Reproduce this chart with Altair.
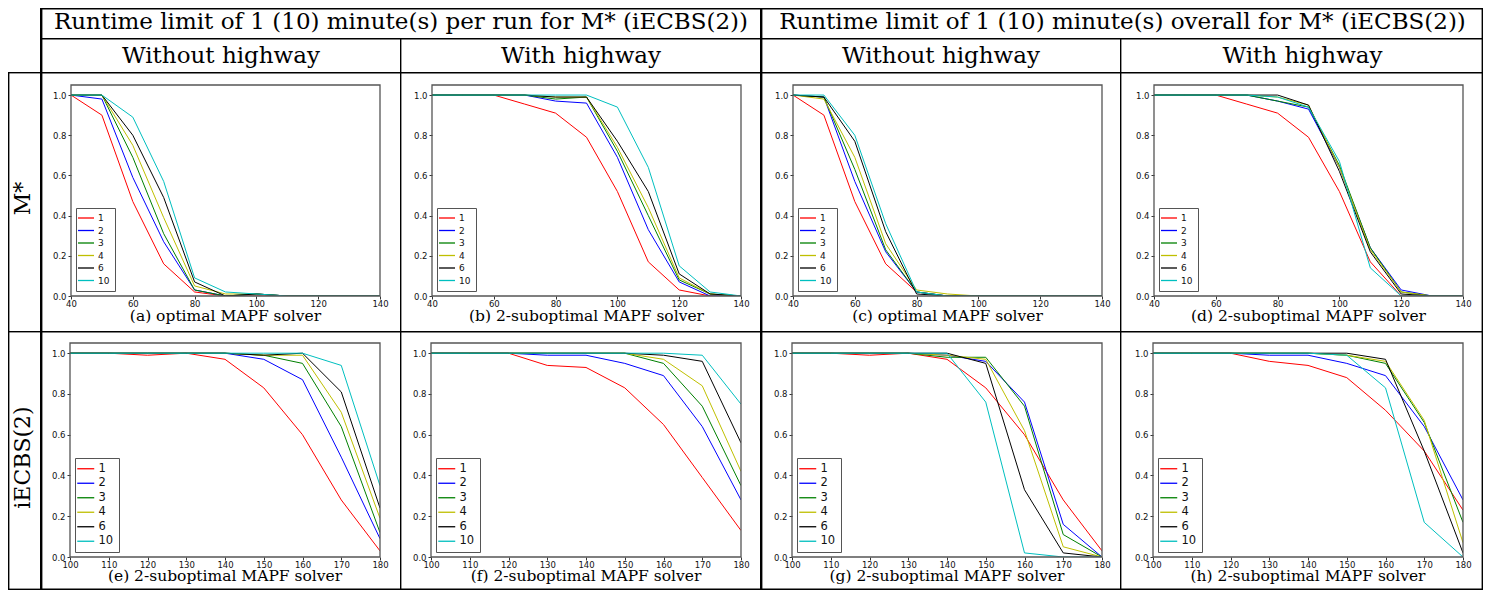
import altair as alt
import pandas as pd

SERIES = ["1", "2", "3", "4", "6", "10"]
COLORS = ["#ff0000", "#0000ff", "#008000", "#bfbf00", "#000000", "#00bfbf"]
X_TOP = [40, 50, 60, 70, 80, 90, 100, 110, 120, 130, 140]
X_BOTTOM = [100, 110, 120, 130, 140, 150, 160, 170, 180]
X_TOP_TICKS = [40, 60, 80, 100, 120, 140]
X_BOTTOM_TICKS = [100, 110, 120, 130, 140, 150, 160, 170, 180]
Y_TICKS = [0.0, 0.2, 0.4, 0.6, 0.8, 1.0]

HEADER_TOP = ["Runtime limit of 1 (10) minute(s) per run for M* (iECBS(2))",
              "Runtime limit of 1 (10) minute(s) overall for M* (iECBS(2))"]
HEADER_SUB = ["Without highway", "With highway", "Without highway", "With highway"]
ROW_LABELS = ["M*", "iECBS(2)"]
CAPTIONS = ["(a) optimal MAPF solver", "(b) 2-suboptimal MAPF solver",
            "(c) optimal MAPF solver", "(d) 2-suboptimal MAPF solver",
            "(e) 2-suboptimal MAPF solver", "(f) 2-suboptimal MAPF solver",
            "(g) 2-suboptimal MAPF solver", "(h) 2-suboptimal MAPF solver"]

A_VALUES = [
    [1.0, 0.90, 0.47, 0.16, 0.02, 0.0, 0.0, 0.0, 0.0, 0.0, 0.0],
    [1.0, 0.98, 0.59, 0.27, 0.03, 0.0, 0.01, 0.0, 0.0, 0.0, 0.0],
    [1.0, 1.0, 0.69, 0.31, 0.03, 0.0, 0.01, 0.0, 0.0, 0.0, 0.0],
    [1.0, 1.0, 0.75, 0.39, 0.05, 0.01, 0.01, 0.0, 0.0, 0.0, 0.0],
    [1.0, 1.0, 0.80, 0.49, 0.07, 0.0, 0.01, 0.0, 0.0, 0.0, 0.0],
    [1.0, 1.0, 0.89, 0.57, 0.09, 0.02, 0.01, 0.0, 0.0, 0.0, 0.0],
]
B_VALUES = [
    [1.0, 1.0, 1.0, 0.955, 0.91, 0.79, 0.52, 0.17, 0.03, 0.0, 0.0],
    [1.0, 1.0, 1.0, 1.0, 0.97, 0.96, 0.69, 0.33, 0.07, 0.0, 0.0],
    [1.0, 1.0, 1.0, 1.0, 0.98, 0.99, 0.72, 0.40, 0.08, 0.01, 0.0],
    [1.0, 1.0, 1.0, 1.0, 0.99, 0.99, 0.74, 0.44, 0.09, 0.01, 0.0],
    [1.0, 1.0, 1.0, 1.0, 0.99, 0.99, 0.77, 0.52, 0.11, 0.01, 0.0],
    [1.0, 1.0, 1.0, 1.0, 1.0, 1.0, 0.94, 0.64, 0.15, 0.02, 0.0],
]
C_VALUES = [
    [1.0, 0.90, 0.47, 0.16, 0.02, 0.0, 0.0, 0.0, 0.0, 0.0, 0.0],
    [1.0, 0.99, 0.57, 0.22, 0.02, 0.0, 0.0, 0.0, 0.0, 0.0, 0.0],
    [1.0, 0.99, 0.63, 0.23, 0.02, 0.0, 0.0, 0.0, 0.0, 0.0, 0.0],
    [1.0, 0.98, 0.69, 0.26, 0.03, 0.01, 0.0, 0.0, 0.0, 0.0, 0.0],
    [1.0, 0.99, 0.77, 0.32, 0.01, 0.0, 0.0, 0.0, 0.0, 0.0, 0.0],
    [1.0, 1.0, 0.80, 0.36, 0.02, 0.0, 0.0, 0.0, 0.0, 0.0, 0.0],
]
D_VALUES = [
    [1.0, 1.0, 1.0, 0.955, 0.91, 0.79, 0.52, 0.17, 0.0, 0.0, 0.0],
    [1.0, 1.0, 1.0, 1.0, 0.97, 0.93, 0.64, 0.24, 0.03, 0.0, 0.0],
    [1.0, 1.0, 1.0, 1.0, 0.97, 0.94, 0.65, 0.24, 0.02, 0.0, 0.0],
    [1.0, 1.0, 1.0, 1.0, 0.99, 0.95, 0.64, 0.23, 0.02, 0.0, 0.0],
    [1.0, 1.0, 1.0, 1.0, 1.0, 0.95, 0.62, 0.22, 0.01, 0.0, 0.0],
    [1.0, 1.0, 1.0, 1.0, 0.99, 0.94, 0.67, 0.14, 0.0, 0.0, 0.0],
]
E_VALUES = [
    [1.0, 1.0, 0.99, 1.0, 0.97, 0.83, 0.60, 0.28, 0.03],
    [1.0, 1.0, 1.0, 1.0, 1.0, 0.97, 0.87, 0.49, 0.09],
    [1.0, 1.0, 1.0, 1.0, 1.0, 0.99, 0.95, 0.64, 0.12],
    [1.0, 1.0, 1.0, 1.0, 1.0, 0.99, 0.99, 0.71, 0.19],
    [1.0, 1.0, 1.0, 1.0, 1.0, 0.99, 1.0, 0.81, 0.24],
    [1.0, 1.0, 1.0, 1.0, 1.0, 1.0, 1.0, 0.94, 0.35],
]
F_VALUES = [
    [1.0, 1.0, 1.0, 0.94, 0.93, 0.83, 0.65, 0.39, 0.13],
    [1.0, 1.0, 1.0, 0.99, 0.99, 0.95, 0.89, 0.64, 0.28],
    [1.0, 1.0, 1.0, 1.0, 1.0, 1.0, 0.95, 0.74, 0.35],
    [1.0, 1.0, 1.0, 1.0, 1.0, 1.0, 0.97, 0.84, 0.42],
    [1.0, 1.0, 1.0, 1.0, 1.0, 1.0, 0.99, 0.96, 0.56],
    [1.0, 1.0, 1.0, 1.0, 1.0, 1.0, 1.0, 0.99, 0.75],
]
G_VALUES = [
    [1.0, 1.0, 0.99, 1.0, 0.97, 0.83, 0.60, 0.28, 0.03],
    [1.0, 1.0, 1.0, 1.0, 0.99, 0.96, 0.76, 0.16, 0.0],
    [1.0, 1.0, 1.0, 1.0, 0.98, 0.98, 0.74, 0.11, 0.0],
    [1.0, 1.0, 1.0, 1.0, 0.99, 0.97, 0.62, 0.05, 0.0],
    [1.0, 1.0, 1.0, 1.0, 1.0, 0.95, 0.33, 0.02, 0.0],
    [1.0, 1.0, 1.0, 1.0, 1.0, 0.76, 0.02, 0.0, 0.0],
]
H_VALUES = [
    [1.0, 1.0, 1.0, 0.96, 0.94, 0.88, 0.72, 0.52, 0.23],
    [1.0, 1.0, 1.0, 0.99, 0.99, 0.95, 0.89, 0.64, 0.28],
    [1.0, 1.0, 1.0, 1.0, 1.0, 0.99, 0.95, 0.66, 0.17],
    [1.0, 1.0, 1.0, 1.0, 1.0, 0.99, 0.96, 0.67, 0.07],
    [1.0, 1.0, 1.0, 1.0, 1.0, 1.0, 0.97, 0.52, 0.02],
    [1.0, 1.0, 1.0, 1.0, 1.0, 0.99, 0.83, 0.17, 0.0],
]

SERIF = "DejaVu Serif"
SANS = "DejaVu Sans"
LABEL_W = 32
CELL_WS = [360, 360, 360, 363]
ROW_HS = [259, 259]
ROW_T = [13, 12]
ROW_PH = [211, 214]
HEAD1 = 30
HEAD2 = 34
THIN = 1.4
THICK = 2.4
DUMMY = pd.DataFrame({"k": [0]})
NO_FRAME = alt.ViewBackground(strokeWidth=0, strokeOpacity=0)


def band(x1, x2, y1, y2, opacity=1.0):
    # a filled strip (table rule) or an invisible box fixing a cell's size
    return alt.Chart(DUMMY).mark_rect(color="black", opacity=opacity).encode(
        x=alt.value(x1), x2=alt.value(x2), y=alt.value(y1), y2=alt.value(y2))


def frame(w, h):
    # the axes box around a plot area
    return alt.Chart(DUMMY).mark_rect(fillOpacity=0, stroke="#555",
                                      strokeWidth=1.3).encode(
        x=alt.value(0), x2=alt.value(w), y=alt.value(0), y2=alt.value(h))


def label_text(text, x, y, size, angle=0, baseline="middle"):
    return alt.Chart(DUMMY).mark_text(font=SERIF, fontSize=size, angle=angle,
                                      align="center", baseline=baseline,
                                      color="black").encode(
        x=alt.value(x), y=alt.value(y), text=alt.value(text))


def panel(xs, values, caption, ticks, row, col):
    cw = CELL_WS[col]
    T, H, CH = ROW_T[row], ROW_PH[row], ROW_HS[row]
    B = CH - T - H
    L = 31 + col if row == 0 else 30 + col
    W = 309 if row == 0 else 310
    R = cw - L - W
    if row == 0:
        lab, rp, sym, cap_dy = 9, 2.5, 64, 25
    else:
        lab, rp, sym, cap_dy = 11.5, 1.5, 72, 24
    recs = []
    for s, vals in zip(SERIES, values):
        for x, v in zip(xs, vals):
            recs.append({"x": x, "y": v, "s": s})
    df = pd.DataFrame(recs)
    lines = alt.Chart(df).mark_line(strokeWidth=1, clip=True).encode(
        x=alt.X("x:Q", scale=alt.Scale(domain=[xs[0], xs[-1]], nice=False, zero=False),
                axis=alt.Axis(values=ticks, title=None, grid=False, domain=False,
                              tickSize=3, tickColor="#333", labelFont=SANS,
                              labelFontSize=8.5, labelColor="#111", labelPadding=0,
                              labelFlush=False)),
        y=alt.Y("y:Q", scale=alt.Scale(domain=[0, 1.05], nice=False),
                axis=alt.Axis(values=Y_TICKS, format=".1f", title=None, grid=False,
                              domain=False, tickSize=3, tickColor="#333",
                              labelFont=SANS, labelFontSize=8.5, labelColor="#111",
                              labelPadding=2)),
        color=alt.Color("s:N", sort=SERIES,
                        scale=alt.Scale(domain=SERIES, range=COLORS),
                        legend=alt.Legend(title=None, orient="bottom-left", offset=5,
                                          strokeColor="#555", fillColor="white",
                                          padding=5, labelFont=SANS,
                                          labelFontSize=lab, labelColor="#111",
                                          symbolType="M-2,0H2", symbolSize=sym,
                                          symbolStrokeWidth=1.3, rowPadding=rp,
                                          labelOffset=7)),
    )
    x0, x1, y0, y1 = -L, W + R, -T, H + B
    layers = [band(x0, x1, y0, y1, 0), lines, frame(W, H)]
    lw = THICK if col in (0, 2) else THIN
    layers.append(band(x0, x0 + lw, y0, y1))
    layers.append(band(x0, x1, y0, y0 + THIN))
    if col == 3:
        layers.append(band(x1 - THIN, x1, y0, y1))
    if row == 1:
        layers.append(band(x0, x1, y1 - THIN, y1))
    layers.append(alt.Chart(DUMMY).mark_text(font=SERIF, fontSize=15.5, align="center",
                                             baseline="alphabetic", color="black").encode(
        x=alt.value(W / 2), y=alt.value(H + cap_dy), text=alt.value(caption)))
    return alt.layer(*layers).properties(width=W, height=H, view=NO_FRAME)


def row_label(text, row):
    T, H, CH = ROW_T[row], ROW_PH[row], ROW_HS[row]
    y0, y1 = -T, CH - T
    layers = [band(0, LABEL_W, y0, y1, 0),
              band(0, THIN, y0, y1),
              band(0, LABEL_W, y0, y0 + THIN),
              label_text(text, 15, (y0 + y1) / 2 - 3, 22, 270)]
    if row == 1:
        layers.append(band(0, LABEL_W, y1 - THIN, y1))
    return alt.layer(*layers).properties(width=LABEL_W, height=H, view=NO_FRAME)


TOTAL_W = LABEL_W + sum(CELL_WS)
HEAD_H = HEAD1 + HEAD2
starts = [LABEL_W]
for w in CELL_WS[:-1]:
    starts.append(starts[-1] + w)
header_layers = [
    band(0, TOTAL_W, 0, HEAD_H, 0),
    band(starts[0], TOTAL_W, 0, THIN),
    band(starts[0], TOTAL_W, HEAD1, HEAD1 + THIN),
    band(starts[0], starts[0] + THICK, 0, HEAD_H),
    band(starts[2], starts[2] + THICK, 0, HEAD_H),
    band(starts[1], starts[1] + THIN, HEAD1, HEAD_H),
    band(starts[3], starts[3] + THIN, HEAD1, HEAD_H),
    band(TOTAL_W - THIN, TOTAL_W, 0, HEAD_H),
]
for i, t in enumerate(HEADER_TOP):
    cx = starts[2 * i] + (CELL_WS[2 * i] + CELL_WS[2 * i + 1]) / 2
    header_layers.append(label_text(t, cx + 1, 21, 23, baseline="alphabetic"))
for i, t in enumerate(HEADER_SUB):
    cx = starts[i] + CELL_WS[i] / 2
    header_layers.append(label_text(t, cx + 1, 55, 23, baseline="alphabetic"))
header = alt.layer(*header_layers).properties(width=TOTAL_W, height=HEAD_H, view=NO_FRAME)

top_data = [A_VALUES, B_VALUES, C_VALUES, D_VALUES]
bot_data = [E_VALUES, F_VALUES, G_VALUES, H_VALUES]

row1 = alt.hconcat(
    row_label(ROW_LABELS[0], 0),
    *[panel(X_TOP, v, CAPTIONS[i], X_TOP_TICKS, 0, i) for i, v in enumerate(top_data)],
    spacing=0,
).resolve_scale(color="independent", x="independent", y="independent").resolve_legend(
    color="independent")

row2 = alt.hconcat(
    row_label(ROW_LABELS[1], 1),
    *[panel(X_BOTTOM, v, CAPTIONS[4 + i], X_BOTTOM_TICKS, 1, i)
      for i, v in enumerate(bot_data)],
    spacing=0,
).resolve_scale(color="independent", x="independent", y="independent").resolve_legend(
    color="independent")

chart = alt.vconcat(header, row1, row2, spacing=0).resolve_scale(
    color="independent").resolve_legend(color="independent").properties(
    padding=0, background="white").configure_view(strokeWidth=0, strokeOpacity=0)

chart.save("out.html", embed_options={"renderer": "svg", "actions": False})
